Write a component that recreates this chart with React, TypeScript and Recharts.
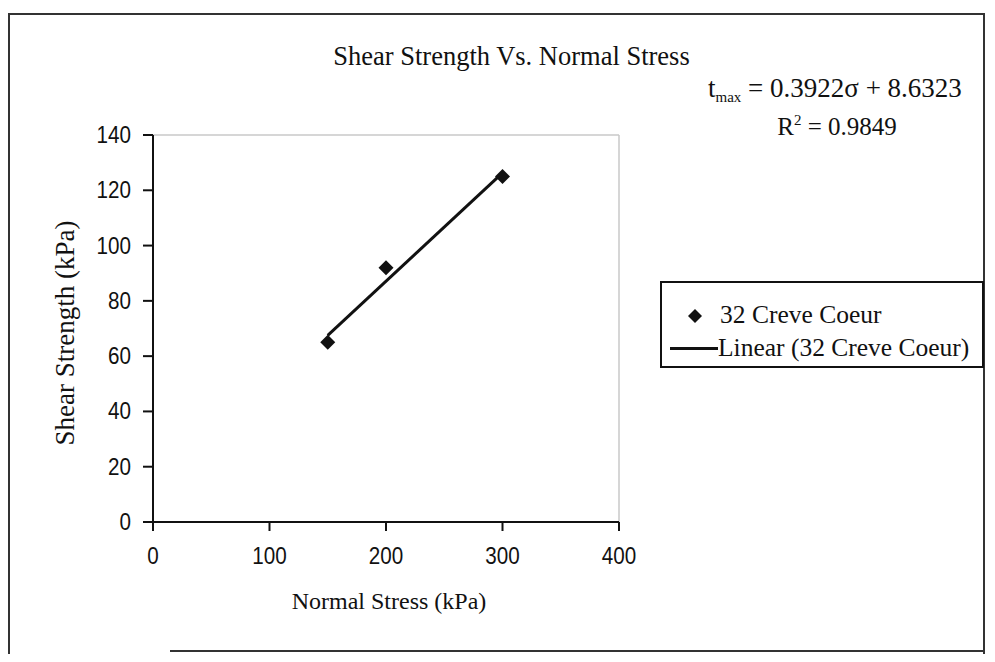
import React from "react";
import {
  ComposedChart,
  Scatter,
  Line,
  XAxis,
  YAxis,
  ReferenceLine,
} from "recharts";

const seriesName = "32 Creve Coeur";
const trendName = "Linear (32 Creve Coeur)";
const normalStress = [150, 200, 300];
const shearStrength = [65, 92, 125];
const trendStress = [150, 300];
const trendStrength = [67.5, 126.3];
const xTicks = [0, 100, 200, 300, 400];
const yTicks = [0, 20, 40, 60, 80, 100, 120, 140];

const points = normalStress.map((x, i) => ({ x, y: shearStrength[i] }));
const trend = trendStress.map((x, i) => ({ x, t: trendStrength[i] }));

const serif = "'Liberation Serif', 'DejaVu Serif', serif";
const sans = "'Liberation Sans', Arial, sans-serif";
const INK = "#111";

const YTick = (props: any) => {
  const { x, y, payload } = props;
  return (
    <text
      transform={`translate(${x},${y}) scale(0.86,1)`}
      textAnchor="end"
      dominantBaseline="central"
      fontSize={24}
      fontFamily={sans}
      fill={INK}
    >
      {payload.value}
    </text>
  );
};

const XTick = (props: any) => {
  const { x, y, payload } = props;
  return (
    <text
      transform={`translate(${x},${y}) scale(0.86,1)`}
      textAnchor="middle"
      dy="0.71em"
      fontSize={24}
      fontFamily={sans}
      fill={INK}
    >
      {payload.value}
    </text>
  );
};

const Diamond = (props: any) => {
  const { cx, cy } = props;
  const r = 7.5;
  return (
    <polygon
      points={`${cx},${cy - r} ${cx + r},${cy} ${cx},${cy + r} ${cx - r},${cy}`}
      fill={INK}
    />
  );
};

const LegendBox = () => (
  <div
    style={{
      position: "absolute",
      left: 652,
      top: 273,
      width: 320,
      height: 83,
      border: "2px solid #111",
      background: "#fff",
      fontFamily: serif,
      fontSize: 25.5,
      color: INK,
    }}
  >
    <svg width={14} height={14} style={{ position: "absolute", left: 26, top: 26 }}>
      <polygon points="7,0 14,7 7,14 0,7" fill={INK} />
    </svg>
    <div style={{ position: "absolute", left: 58, top: 17, lineHeight: "30px", whiteSpace: "nowrap" }}>
      {seriesName}
    </div>
    <div style={{ position: "absolute", left: 8, top: 64, width: 48, height: 3, background: INK }} />
    <div style={{ position: "absolute", left: 56, top: 50, lineHeight: "30px", whiteSpace: "nowrap" }}>
      {trendName}
    </div>
  </div>
);

export default function App() {
  return (
    <div
      style={{
        position: "relative",
        width: 979,
        height: 646,
        overflow: "hidden",
        background: "#fff",
        fontFamily: serif,
      }}
    >
      <div
        style={{
          position: "absolute",
          left: 0,
          top: 5,
          width: 973,
          height: 660,
          borderTop: "2px solid #333",
          borderLeft: "2px solid #333",
          borderRight: "2px solid #333",
        }}
      />
      <div style={{ position: "absolute", left: 162, top: 642, width: 815, height: 0, borderTop: "2px solid #333" }} />
      <ComposedChart
        width={979}
        height={646}
        margin={{ top: 127, right: 368, bottom: 92, left: 95 }}
        style={{ position: "absolute", left: 0, top: 0 }}
      >
        <XAxis
          type="number"
          dataKey="x"
          domain={[0, 400]}
          ticks={xTicks}
          allowDataOverflow
          height={40}
          tickSize={9}
          tickMargin={16}
          stroke={INK}
          strokeWidth={2}
          tick={<XTick />}
        />
        <YAxis
          type="number"
          dataKey="y"
          domain={[0, 140]}
          ticks={yTicks}
          width={50}
          tickSize={10}
          tickMargin={12}
          stroke={INK}
          strokeWidth={2}
          tick={<YTick />}
        />
        <ReferenceLine y={140} stroke="#c8c8c8" strokeWidth={1.5} />
        <ReferenceLine x={400} stroke="#c8c8c8" strokeWidth={1.5} />
        <Line
          data={trend}
          dataKey="t"
          name={trendName}
          stroke={INK}
          strokeWidth={3}
          dot={false}
          isAnimationActive={false}
        />
        <Scatter
          data={points}
          dataKey="y"
          name={seriesName}
          fill={INK}
          shape={<Diamond />}
          isAnimationActive={false}
        />
      </ComposedChart>
      <LegendBox />
      <svg
        width={979}
        height={646}
        style={{ position: "absolute", left: 0, top: 0, pointerEvents: "none" }}
        fontFamily={serif}
        fill={INK}
      >
        <text x={503.5} y={57} textAnchor="middle" fontSize={26.5}>
          Shear Strength Vs. Normal Stress
        </text>
        <text x={700} y={89} fontSize={27}>
          t<tspan fontSize={15} dy={5}>max</tspan>
          <tspan dy={-5}> = 0.3922σ + 8.6323</tspan>
        </text>
        <text x={829} y={127} textAnchor="middle" fontSize={25}>
          R<tspan fontSize={15} dy={-10}>2</tspan>
          <tspan dy={10}> = 0.9849</tspan>
        </text>
        <text
          transform="translate(57,325) rotate(-90)"
          textAnchor="middle"
          dominantBaseline="central"
          fontSize={27}
        >
          Shear Strength (kPa)
        </text>
        <text x={381} y={601} textAnchor="middle" fontSize={24}>
          Normal Stress (kPa)
        </text>
      </svg>
    </div>
  );
}
